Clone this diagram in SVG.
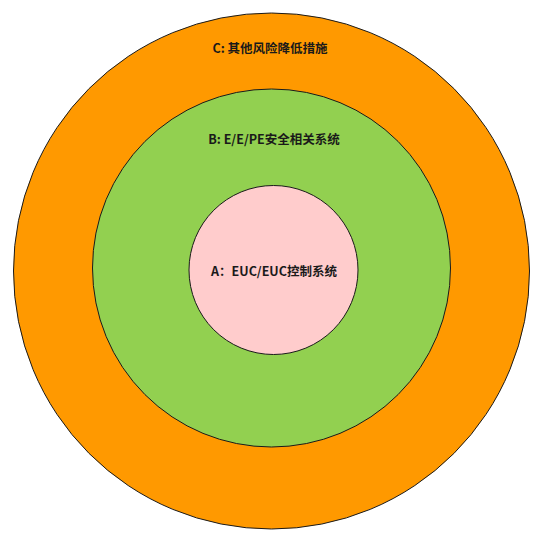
<svg xmlns="http://www.w3.org/2000/svg" width="548" height="539" viewBox="0 0 548 539">
<style>
.ring{stroke:#1a1a1a;stroke-width:1}
.lbl{font-family:"Noto Sans CJK SC","Noto Sans",sans-serif;font-weight:bold;font-size:12.5px;fill:#1a1a1a;text-anchor:middle;dominant-baseline:central}
</style>
<rect width="548" height="539" fill="#ffffff"/>
<g id="nodeC">
<circle class="ring" cx="271.5" cy="271" r="258" fill="#FF9900"/>
<text class="lbl" x="270" y="47">C: 其他风险降低措施</text>
</g>
<g id="nodeB">
<circle class="ring" cx="271.5" cy="268" r="179" fill="#92D050"/>
<text class="lbl" x="274" y="138">B: E/E/PE安全相关系统</text>
</g>
<g id="nodeA">
<circle class="ring" cx="273.5" cy="270" r="84.5" fill="#FFCCCC"/>
<text class="lbl" x="274" y="270">A：EUC/EUC控制系统</text>
</g>
<g id="connectors"></g>
</svg>
